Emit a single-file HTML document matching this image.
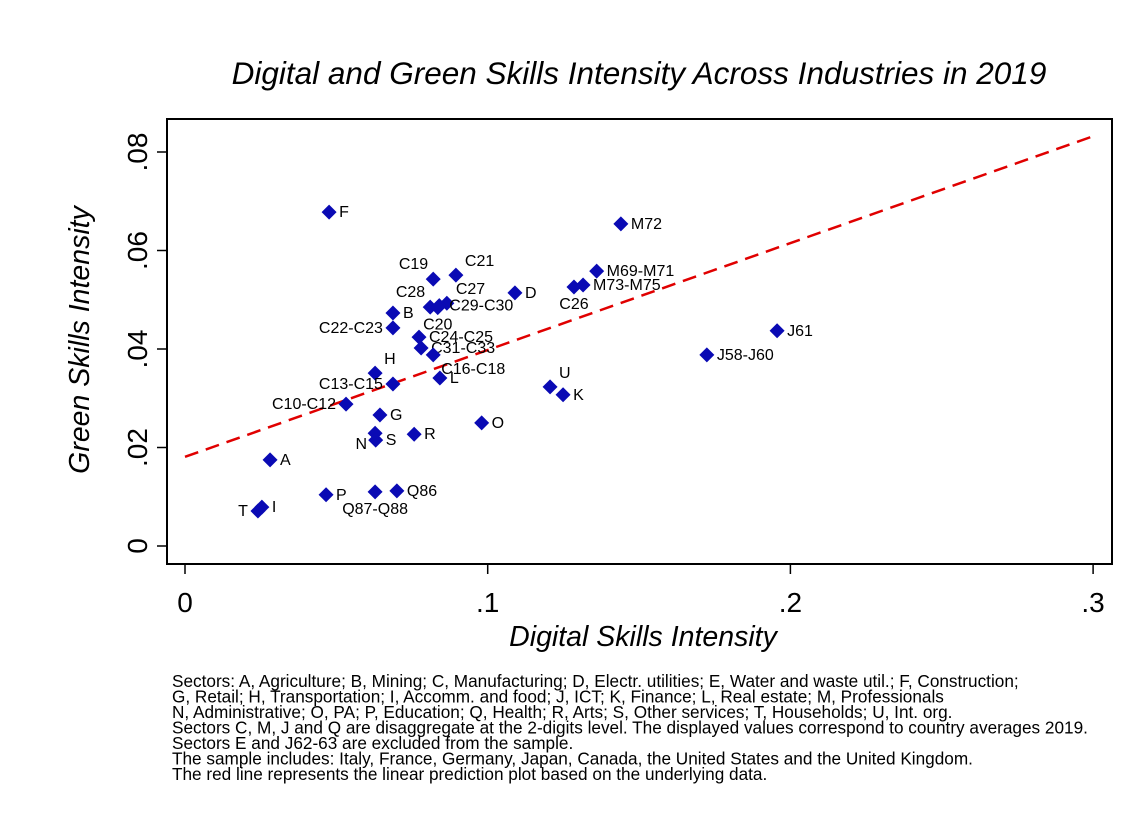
<!DOCTYPE html>
<html><head><meta charset="utf-8"><style>
body{margin:0;background:#fff;width:1139px;height:828px;overflow:hidden;font-family:"Liberation Sans",Arial,sans-serif}
</style></head><body>
<svg id="chart" width="1139" height="828" xmlns="http://www.w3.org/2000/svg" font-family="Liberation Sans, Arial, sans-serif">
<text x="639" y="84" text-anchor="middle" font-size="31.5" font-style="italic">Digital and Green Skills Intensity Across Industries in 2019</text>
<rect x="167" y="119" width="945" height="445" fill="none" stroke="#000" stroke-width="2"/>
<g id="axes"></g>
<g id="fit"></g>
<g id="pts"></g>
<text x="643" y="646" text-anchor="middle" font-size="28.5" font-style="italic">Digital Skills Intensity</text>
<text transform="translate(89,340) rotate(-90)" text-anchor="middle" font-size="28.5" font-style="italic">Green Skills Intensity</text>
<g font-size="17.2">
<text x="172" y="687">Sectors: A, Agriculture; B, Mining; C, Manufacturing; D, Electr. utilities; E, Water and waste util.; F, Construction;</text>
<text x="172" y="702.5">G, Retail; H, Transportation; I, Accomm. and food; J, ICT; K, Finance; L, Real estate; M, Professionals</text>
<text x="172" y="718">N, Administrative; O, PA; P, Education; Q, Health; R, Arts; S, Other services; T, Households; U, Int. org.</text>
<text x="172" y="733.5">Sectors C, M, J and Q are disaggregate at the 2-digits level. The displayed values correspond to country averages 2019.</text>
<text x="172" y="749">Sectors E and J62-63 are excluded from the sample.</text>
<text x="172" y="764.5">The sample includes: Italy, France, Germany, Japan, Canada, the United States and the United Kingdom.</text>
<text x="172" y="780">The red line represents the linear prediction plot based on the underlying data.</text>
</g>
</svg>
<script>
const labels=["F","M72","C19","C21","D","M69-M71","M73-M75","C26","C28","C27","C29-C30","C20","B","C22-C23","C24-C25","C31-C33","C16-C18","H","C13-C15","L","C10-C12","G","O","N","S","R","U","K","J61","J58-J60","A","P","Q87-Q88","Q86","T","I"];
const digital=[.0476,.144,.082,.0895,.109,.136,.1315,.1285,.081,.0865,.084,.0835,.0687,.0687,.0773,.078,.082,.0628,.0687,.0842,.0532,.0644,.098,.0628,.063,.0757,.1206,.1249,.1956,.1724,.0281,.0466,.0628,.07,.0241,.0254];
const green=[.0678,.0654,.0542,.055,.0514,.0558,.053,.0526,.0485,.0493,.0488,.0484,.0473,.0443,.0424,.0402,.0388,.0351,.0329,.0341,.0288,.0266,.025,.0229,.0215,.0227,.0323,.0307,.0437,.0388,.0175,.0104,.011,.0112,.0071,.0079];
const labelPos=["r","r","ul","ur","r","r","r","b","ul","ur","r","b","r","l","r","r","br","ur","l","r","l","r","r","bl","r","r","ur","r","r","r","r","r","b","r","l","r"];
const xTicks=[0,.1,.2,.3], xTickLabels=["0",".1",".2",".3"];
const yTicks=[0,.02,.04,.06,.08], yTickLabels=["0",".02",".04",".06",".08"];
const fitIntercept=.0181, fitSlope=.217;
const NS="http://www.w3.org/2000/svg";
const X=v=>185+v*3027, Y=v=>546-v*4925;
function mk(t,a,p){const e=document.createElementNS(NS,t);for(const k in a)e.setAttribute(k,a[k]);p.appendChild(e);return e;}
const ax=document.getElementById('axes');
xTicks.forEach((t,i)=>{
 const l=mk('line',{x1:X(t),x2:X(t),y1:564,y2:574,stroke:'#000','stroke-width':1.5},ax);
 
 
 const s=mk('text',{x:X(t),y:612,'text-anchor':'middle','font-size':28},ax);s.textContent=xTickLabels[i];
 
 
});
yTicks.forEach((t,i)=>{
 const l=mk('line',{x1:157,x2:167,y1:Y(t),y2:Y(t),stroke:'#000','stroke-width':1.5},ax);
 
 
 const s=mk('text',{transform:`translate(147,${Y(t)}) rotate(-90)`,'text-anchor':'middle','font-size':28},ax);s.textContent=yTickLabels[i];
 
 
});
const fl=mk('line',{x1:X(0),y1:Y(fitIntercept),x2:X(.3),y2:Y(fitIntercept+fitSlope*.3),stroke:'#e00000','stroke-width':2.5,'stroke-dasharray':'14,8'},document.getElementById('fit'));


const pg=document.getElementById('pts');
const off={r:[10,5,'start'],l:[-10,5,'end'],ul:[-5,-10,'end'],ur:[9,-9,'start'],b:[0,22,'middle'],br:[8,19,'start'],bl:[-8,16,'end']};
labels.forEach((lb,i)=>{
 const x=X(digital[i]),y=Y(green[i]);
 const d=mk('polygon',{points:`${x},${y-7.5} ${x+7.5},${y} ${x},${y+7.5} ${x-7.5},${y}`,fill:'#0a0ab4'},pg);
 
 
 const o=off[labelPos[i]];
 const t=mk('text',{x:x+o[0],y:y+o[1],'text-anchor':o[2],'font-size':16},pg);t.textContent=lb;
 
 
});
</script>
</body></html>
